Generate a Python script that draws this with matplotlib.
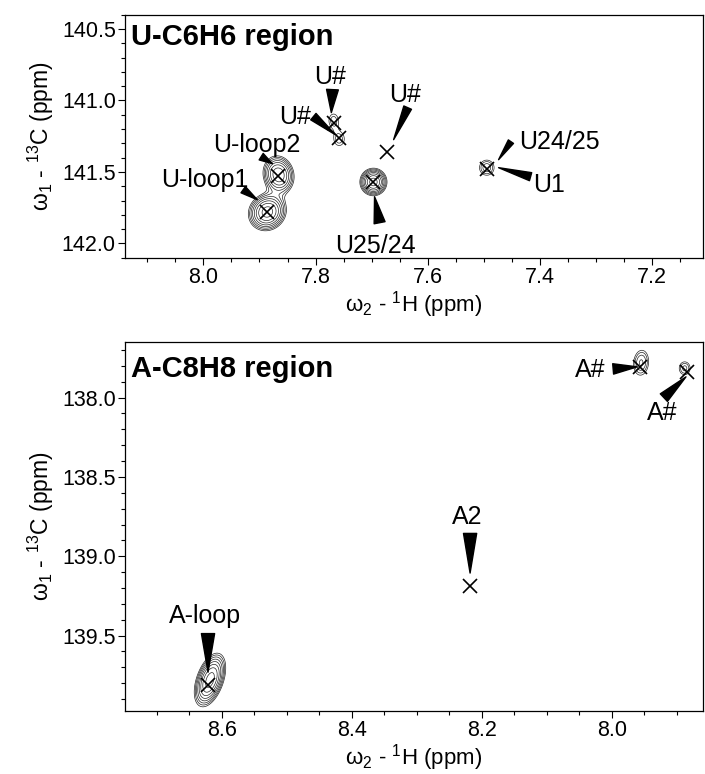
import numpy as np
import matplotlib.pyplot as plt
from matplotlib.ticker import MultipleLocator

plt.rcParams['font.family'] = ['Liberation Sans', 'DejaVu Sans']
plt.rcParams['mathtext.fontset'] = 'custom'
plt.rcParams['mathtext.rm'] = 'Liberation Sans'
plt.rcParams['mathtext.it'] = 'Liberation Sans:italic'
plt.rcParams['mathtext.bf'] = 'Liberation Sans:bold'

# --- U-C6H6 region: peak picks (1H ppm, 13C ppm)
u_h = [7.886, 7.867, 7.768, 7.759, 7.672, 7.697, 7.495]
u_c = [141.78, 141.53, 141.155, 141.26, 141.36, 141.57, 141.48]

# contoured peaks: centre H, centre C, width H, width C, height, tilt
u_pk_h = [7.886, 7.866, 7.768, 7.758, 7.697, 7.495]
u_pk_c = [141.78, 141.52, 141.14, 141.27, 141.57, 141.47]
u_pk_sh = [0.0175, 0.015, 0.009, 0.010, 0.0125, 0.011]
u_pk_sc = [0.068, 0.072, 0.050, 0.050, 0.050, 0.045]
u_pk_a = [6.5, 5.5, 1.5, 1.5, 6.5, 2.0]
u_pk_r = [0.1, -0.1, 0.0, 0.0, 0.0, 0.0]

# labels: text, text pos, wedge base, wedge tip
u_lab = ["U-loop1", "U-loop2", "U#", "U#", "U#", "U25/24", "U24/25", "U1"]
u_lab_h = [7.997, 7.904, 7.774, 7.836, 7.640, 7.694, 7.438, 7.413]
u_lab_c = [141.554, 141.309, 140.834, 141.113, 140.960, 142.020, 141.288, 141.589]
u_lab_ha = ["center", "center", "center", "center", "center", "center", "left", "left"]
u_base = [(7.929, 141.624), (7.897, 141.393), (7.770, 140.924), (7.804, 141.113),
          (7.636, 141.050), (7.686, 141.855), (7.452, 141.288), (7.417, 141.533)]
u_tip = [(7.904, 141.694), (7.877, 141.442), (7.772, 141.085), (7.765, 141.239),
         (7.661, 141.274), (7.695, 141.673), (7.474, 141.414), (7.474, 141.470)]
u_wid = [0.55, 0.55, 0.85, 0.6, 0.6, 0.8, 0.45, 0.6]

# --- A-C8H8 region
a_h = [8.621, 8.218, 7.957, 7.884]
a_c = [139.81, 139.19, 137.81, 137.84]

a_pk_h = [8.618, 7.955, 7.888]
a_pk_c = [139.78, 137.78, 137.815]
a_pk_sh = [0.0125, 0.0092, 0.0077]
a_pk_sc = [0.0875, 0.0625, 0.0375]
a_pk_a = [6.5, 2.2, 1.8]
a_pk_r = [0.45, 0.1, 0.0]

a_lab = ["A-loop", "A2", "A#", "A#"]
a_lab_h = [8.626, 8.223, 8.034, 7.923]
a_lab_c = [139.375, 138.750, 137.825, 138.094]
a_base = [(8.621, 139.4875), (8.218, 138.856), (7.998, 137.819), (7.920, 138.0)]
a_tip = [(8.621, 139.731), (8.218, 139.106), (7.961, 137.806), (7.886, 137.869)]
a_wid = [0.95, 0.95, 0.75, 0.75]

levels = 1.28 ** np.arange(0, 10)


def spektroa(hh, cc, ph, pc, sh, sc, amp, rho):
    z = np.zeros_like(hh)
    for h0, c0, s1, s2, a, r in zip(ph, pc, sh, sc, amp, rho):
        dx = (hh - h0) / s1
        dy = (cc - c0) / s2
        q = (dx**2 - 2 * r * dx * dy + dy**2) / (1 - r**2)
        z += a * np.exp(-0.5 * q)
    return z


def panela(ax, xlim, ylim, izena, ph, pc, sh, sc, amp, rho, xs, ys,
           lab, lh, lc, lha, base, tip, wid, ymaj):
    hh, cc = np.meshgrid(np.linspace(xlim[1], xlim[0], 500),
                         np.linspace(ylim[1], ylim[0], 500))
    z = spektroa(hh, cc, ph, pc, sh, sc, amp, rho)
    ax.contour(hh, cc, z, levels=levels, colors="0.15", linewidths=0.5)
    ax.plot(xs, ys, "x", color="black", markersize=10, markeredgewidth=1.2)

    for t, x, y, ha, b, p, w in zip(lab, lh, lc, lha, base, tip, wid):
        ax.text(x, y, t, ha=ha, va="center", fontsize=18)
        ax.annotate("", xy=p, xytext=b,
                    arrowprops=dict(arrowstyle=f"wedge,tail_width={w},shrink_factor=0.5",
                                    color="black", shrinkA=0, shrinkB=0),
                    annotation_clip=False)

    ax.text(0.01, 0.965, izena, transform=ax.transAxes, fontsize=21,
            fontweight="bold", va="top", ha="left")

    ax.set_xlim(xlim)
    ax.set_ylim(ylim)
    ax.xaxis.set_major_locator(MultipleLocator(0.2))
    ax.xaxis.set_minor_locator(MultipleLocator(0.05))
    ax.yaxis.set_major_locator(MultipleLocator(ymaj))
    ax.yaxis.set_minor_locator(MultipleLocator(0.1))
    ax.xaxis.set_major_formatter(lambda v, pos: f"{v:.1f}")
    ax.yaxis.set_major_formatter(lambda v, pos: f"{v:.1f}")
    ax.tick_params(which="both", direction="out", labelsize=15.5, width=0.8)
    ax.tick_params(which="major", length=5)
    ax.tick_params(which="minor", length=3)
    ax.tick_params(axis="y", pad=1.5)
    ax.tick_params(axis="x", pad=1.5)
    ax.set_xlabel(r"ω$_2$ - $^1$H (ppm)", fontsize=16, labelpad=1)
    ax.set_ylabel(r"ω$_1$ - $^{13}$C (ppm)", fontsize=16.5, labelpad=4)
    for s in ax.spines.values():
        s.set_linewidth(0.9)


fig = plt.figure(figsize=(7.05, 7.74), dpi=100)
ax1 = fig.add_axes([0.177, 0.667, 0.820, 0.314])
ax2 = fig.add_axes([0.177, 0.0815, 0.820, 0.4765])

panela(ax1, (8.14, 7.11), (142.10, 140.40), "U-C6H6 region",
       u_pk_h, u_pk_c, u_pk_sh, u_pk_sc, u_pk_a, u_pk_r, u_h, u_c,
       u_lab, u_lab_h, u_lab_c, u_lab_ha, u_base, u_tip, u_wid, 0.5)
panela(ax2, (8.749, 7.86), (139.975, 137.65), "A-C8H8 region",
       a_pk_h, a_pk_c, a_pk_sh, a_pk_sc, a_pk_a, a_pk_r, a_h, a_c,
       a_lab, a_lab_h, a_lab_c, ["center"] * 4, a_base, a_tip, a_wid, 0.5)

plt.savefig("out.png", dpi=100)
